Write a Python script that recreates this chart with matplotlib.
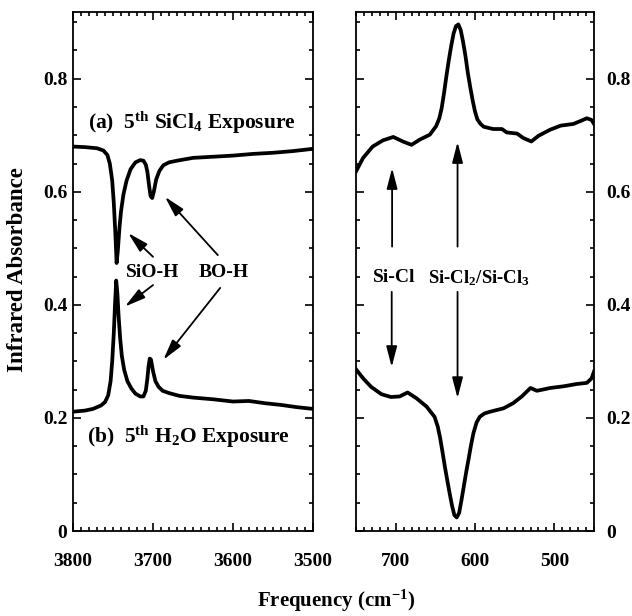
import matplotlib
matplotlib.use("Agg")
import matplotlib.pyplot as plt
from matplotlib.ticker import MultipleLocator

plt.rcParams['font.family'] = ['Liberation Serif', 'DejaVu Serif']
plt.rcParams['font.weight'] = 'bold'
plt.rcParams['mathtext.fontset'] = 'custom'
plt.rcParams['mathtext.rm'] = 'Liberation Serif:bold'
plt.rcParams['mathtext.bf'] = 'Liberation Serif:bold'
plt.rcParams['mathtext.it'] = 'Liberation Serif:bold:italic'

# ---- data: O-H stretching region ----
oh_freq_a = [3800, 3785, 3770, 3762, 3757, 3754, 3751, 3749, 3747, 3745.5, 3744, 3742, 3740, 3737,
             3733, 3728, 3722, 3716, 3712, 3709, 3707, 3705, 3703, 3701, 3699, 3696, 3692, 3687,
             3680, 3670, 3650, 3625, 3600, 3575, 3550, 3525, 3500]
oh_abs_a = [0.680, 0.679, 0.677, 0.673, 0.665, 0.650, 0.620, 0.580, 0.525, 0.474, 0.495, 0.535, 0.565, 0.595,
            0.620, 0.640, 0.652, 0.656, 0.655, 0.648, 0.635, 0.612, 0.592, 0.589, 0.600, 0.622, 0.637, 0.647,
            0.652, 0.655, 0.660, 0.662, 0.664, 0.667, 0.669, 0.672, 0.676]

oh_freq_b = [3800, 3785, 3775, 3765, 3760, 3756, 3753, 3751, 3749, 3747.5, 3746, 3744.5, 3743, 3741,
             3739, 3736, 3732, 3727, 3722, 3716, 3712, 3709, 3707, 3705.5, 3704, 3702.5, 3700, 3697,
             3693, 3688, 3680, 3667, 3650, 3625, 3600, 3580, 3560, 3540, 3520, 3500]
oh_abs_b = [0.211, 0.213, 0.216, 0.222, 0.228, 0.240, 0.265, 0.300, 0.350, 0.400, 0.443, 0.420, 0.380, 0.340,
            0.310, 0.285, 0.265, 0.252, 0.243, 0.238, 0.238, 0.248, 0.270, 0.292, 0.305, 0.303, 0.283, 0.265,
            0.255, 0.248, 0.244, 0.239, 0.236, 0.233, 0.229, 0.230, 0.226, 0.223, 0.219, 0.216]

# ---- data: Si-Cl region ----
sicl_freq_a = [750, 741, 729, 716, 703, 691, 680, 670, 657, 649, 645, 642, 639, 636, 633, 630, 627, 624,
               621, 618, 615, 612, 609, 606, 603, 600, 597, 593, 589, 577, 566, 560, 547, 539, 529, 520,
               505, 492, 476, 469, 459, 453, 450]
sicl_abs_a = [0.636, 0.660, 0.680, 0.691, 0.697, 0.689, 0.683, 0.692, 0.701, 0.716, 0.730, 0.748, 0.775,
              0.805, 0.833, 0.858, 0.880, 0.893, 0.896, 0.886, 0.865, 0.840, 0.810, 0.785, 0.762, 0.742,
              0.728, 0.720, 0.715, 0.711, 0.711, 0.705, 0.703, 0.695, 0.689, 0.699, 0.710, 0.717, 0.720,
              0.724, 0.730, 0.727, 0.720]

sicl_freq_b = [750, 741, 731, 718, 706, 695, 685, 674, 661, 651, 647, 644, 641, 638, 635, 632, 629, 626,
               623, 620, 617, 614, 611, 608, 605, 602, 598, 594, 588, 581, 564, 552, 541, 530, 522, 505,
               488, 472, 459, 453, 450]
sicl_abs_b = [0.286, 0.270, 0.255, 0.242, 0.237, 0.238, 0.245, 0.235, 0.220, 0.202, 0.185, 0.165, 0.140,
              0.114, 0.090, 0.067, 0.045, 0.028, 0.024, 0.032, 0.055, 0.080, 0.105, 0.128, 0.152, 0.173,
              0.192, 0.202, 0.208, 0.211, 0.217, 0.226, 0.238, 0.253, 0.248, 0.253, 0.256, 0.260, 0.262,
              0.270, 0.282]

left_xticks = [3800, 3700, 3600, 3500]
right_xticks = [700, 600, 500]
yticks = [0, 0.2, 0.4, 0.6, 0.8]
ytick_labels = ['0', '0.2', '0.4', '0.6', '0.8']

W, H = 632, 616
fig = plt.figure(figsize=(W / 100, H / 100), dpi=100)
axL = fig.add_axes([73 / W, 1 - 531 / H, 240 / W, 519 / H])
axR = fig.add_axes([356 / W, 1 - 531 / H, 238 / W, 519 / H])

lw = 2.7
axL.plot(oh_freq_a, oh_abs_a, color='black', lw=lw, solid_joinstyle='round')
axL.plot(oh_freq_b, oh_abs_b, color='black', lw=lw, solid_joinstyle='round')
axR.plot(sicl_freq_a, sicl_abs_a, color='black', lw=lw, solid_joinstyle='round')
axR.plot(sicl_freq_b, sicl_abs_b, color='black', lw=lw, solid_joinstyle='round')

axL.set_xlim(3800, 3500)
axR.set_xlim(750, 450)
for ax in (axL, axR):
    ax.set_ylim(0, 0.918)
    ax.set_yticks(yticks)
    ax.set_yticklabels(ytick_labels)
    ax.yaxis.set_minor_locator(MultipleLocator(0.05))
    ax.xaxis.set_minor_locator(MultipleLocator(10))
    ax.tick_params(which='both', direction='in', top=True, right=True, left=True, bottom=True,
                   width=1.2)
    ax.tick_params(which='major', length=5.5, labelsize=14)
    ax.tick_params(which='minor', length=3)
    ax.tick_params(axis='x', which='major', pad=16)
    for s in ax.spines.values():
        s.set_linewidth(1.3)

axL.set_xticks(left_xticks)
axR.set_xticks(right_xticks)
axL.tick_params(axis='y', labelleft=True, labelright=False, pad=4)
axR.tick_params(axis='y', labelleft=False, labelright=True, pad=9)

fig.text(18 / W, 1 - 270 / H, 'Infrared Absorbance', rotation=90, ha='center', va='center',
         fontsize=16.5, fontweight='bold')
fig.text(336 / W, 1 - 601 / H, 'Frequency (cm$^{\\mathrm{-1}}$)', ha='center', va='center',
         fontsize=15, fontweight='bold')

fs = 15.5
axL.text(3781, 0.722, '(a)  5$^{\\mathrm{th}}$ SiCl$_{\\mathrm{4}}$ Exposure', ha='left', va='center',
         fontsize=fs, fontweight='bold')
axL.text(3782, 0.166, '(b)  5$^{\\mathrm{th}}$ H$_{\\mathrm{2}}$O Exposure', ha='left', va='center',
         fontsize=fs, fontweight='bold')
ls = 14
axL.text(3700, 0.458, 'SiO-H', ha='center', va='center', fontsize=ls, fontweight='bold')
axL.text(3612, 0.458, 'BO-H', ha='center', va='center', fontsize=ls, fontweight='bold')
axR.text(702, 0.448, 'Si-Cl', ha='center', va='center', fontsize=ls, fontweight='bold')
axR.text(595, 0.448, 'Si-Cl$_{\\mathrm{2}}$/Si-Cl$_{\\mathrm{3}}$', ha='center', va='center',
         fontsize=13.5, fontweight='bold')

aprops = dict(arrowstyle='-|>,head_length=0.5,head_width=0.13', color='black', lw=1.3,
              mutation_scale=25, shrinkA=0, shrinkB=0)
arrowsL = [((3700, 0.485), (3731, 0.527)), ((3619, 0.488), (3685, 0.591)),
           ((3700, 0.435), (3735, 0.397)), ((3616, 0.430), (3687, 0.303))]
for tail, head in arrowsL:
    axL.annotate('', xy=head, xytext=tail, arrowprops=aprops)
arrowsR = [((704.5, 0.503), (704.5, 0.642)), ((622, 0.503), (622, 0.688)),
           ((705, 0.423), (705, 0.290)), ((622, 0.423), (622, 0.235))]
for tail, head in arrowsR:
    axR.annotate('', xy=head, xytext=tail, arrowprops=aprops)

fig.savefig('out.png', dpi=100)
